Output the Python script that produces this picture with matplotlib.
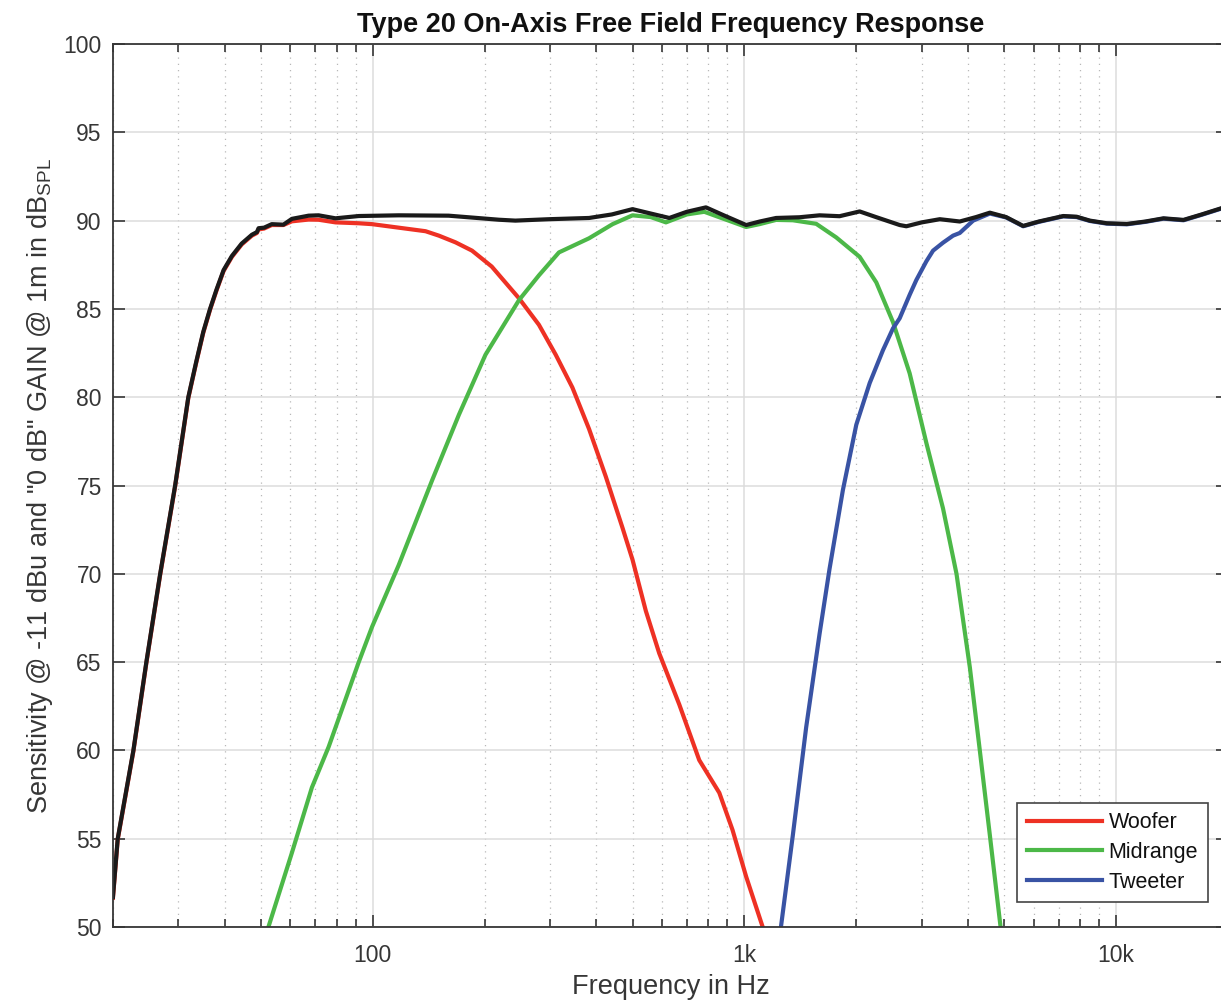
import matplotlib
matplotlib.use("Agg")
import matplotlib.pyplot as plt
from matplotlib.ticker import FixedLocator, NullFormatter

plt.rcParams['font.family'] = ['Liberation Sans', 'DejaVu Sans']
plt.rcParams['mathtext.fontset'] = 'custom'
plt.rcParams['mathtext.rm'] = 'Liberation Sans'
plt.rcParams['mathtext.it'] = 'Liberation Sans:italic'

# ---------------------------------------------------------------- data
# total (black)
total_f = [20, 20.6, 22.7, 24.6, 26.8, 29.4, 31.9, 33.5, 35, 36.5, 38, 39.7, 41.8,
           44.4, 47.3, 48.8, 49.3, 51, 53.5, 57.5, 60.6, 67.2, 71.5, 79.4, 91.7, 117.5, 160,
           218.6, 242, 298, 382, 440, 500, 560, 628, 700, 788, 880, 1011, 1100,
           1217, 1406, 1593, 1803, 2042, 2260, 2617, 2727, 3000, 3355, 3797, 4200,
           4575, 5060, 5623, 6200, 7211, 7834, 8500, 9437, 10690, 12000, 13416,
           15185, 17000, 19187, 20000]
total_db = [51.7, 55.0, 60.0, 65.0, 70.0, 75.0, 80.0, 82.0, 83.7, 85.0, 86.1, 87.2, 88.0,
            88.7, 89.2, 89.35, 89.57, 89.6, 89.8, 89.77, 90.1, 90.28, 90.3, 90.13, 90.26, 90.3, 90.28,
            90.05, 90.0, 90.08, 90.15, 90.35, 90.65, 90.4, 90.15, 90.5, 90.75, 90.3, 89.75, 89.95,
            90.15, 90.19, 90.3, 90.25, 90.52, 90.2, 89.75, 89.68, 89.9, 90.08, 89.95, 90.2,
            90.45, 90.2, 89.7, 89.95, 90.26, 90.22, 90.0, 89.85, 89.81, 89.95, 90.13,
            90.04, 90.35, 90.7, 90.8]

woofer_f = [20, 20.6, 22.7, 24.6, 26.8, 29.4, 31.9, 33.5, 35, 36.5, 38, 39.7, 41.8,
            44.4, 47.3, 48.8, 49.3, 51, 53.5, 57.5, 60.6, 67.2, 71.5, 79.4, 91.7, 99.6, 117.5,
            138.7, 150.6, 167, 185, 209, 247.5, 280, 310.8, 344.5, 382, 423.8, 470,
            500, 543, 590, 668, 756, 856, 929, 1011, 1120]
woofer_db = [51.65, 54.95, 59.95, 64.95, 69.95, 74.95, 79.95, 81.95, 83.65, 84.95, 86.05, 87.15, 87.95,
             88.65, 89.15, 89.3, 89.5, 89.55, 89.75, 89.75, 89.96, 90.06, 90.05, 89.9, 89.85, 89.8, 89.6,
             89.4, 89.15, 88.77, 88.3, 87.4, 85.6, 84.1, 82.4, 80.55, 78.2, 75.5, 72.6,
             70.8, 67.9, 65.5, 62.6, 59.45, 57.6, 55.5, 52.85, 50.0]

mid_f = [52.4, 60.6, 68.6, 76.1, 91.7, 99.6, 117.5, 144.5, 170.5, 201, 247.5, 280,
         317, 382, 442, 500, 560, 615, 700, 780, 880, 1011, 1098, 1217, 1350, 1560,
         1766, 2042, 2264, 2511, 2784, 3088, 3423, 3721, 4042, 4299, 4575, 4889]
mid_db = [50.0, 54.2, 57.9, 60.2, 65.0, 67.0, 70.5, 75.3, 79.0, 82.4, 85.5, 86.9,
          88.2, 89.0, 89.8, 90.3, 90.2, 89.9, 90.35, 90.5, 90.1, 89.64, 89.8, 90.04, 90.02, 89.82,
          89.05, 87.95, 86.5, 84.25, 81.35, 77.4, 73.7, 70.0, 64.7, 60.0, 55.2, 50.0]

tweeter_f = [1254, 1350, 1466, 1593, 1694, 1841, 2000, 2173, 2359, 2511, 2617, 2784,
             2902, 3088, 3218, 3423, 3643, 3797, 4125, 4575, 5060, 5623, 6200, 7211,
             7834, 8500, 9437, 10690, 12000, 13416, 15185, 17000, 19187, 20000]
tweeter_db = [50.0, 55.2, 61.3, 66.6, 70.26, 74.75, 78.44, 80.8, 82.66, 83.9, 84.47, 85.8,
              86.64, 87.7, 88.3, 88.75, 89.15, 89.3, 90.0, 90.4, 90.18, 89.68, 89.93, 90.24,
              90.2, 89.98, 89.83, 89.79, 89.93, 90.11, 90.02, 90.33, 90.68, 90.78]

xticks_major = [100, 1000, 10000]
xtick_labels = ['100', '1k', '10k']
yticks = list(range(50, 101, 5))

# ---------------------------------------------------------------- figure
txt = '#363636'
fig = plt.figure(figsize=(12.21, 10.05), dpi=100)
ax = fig.add_axes([0.0925, 0.0776, 0.9132, 0.8786])

ax.semilogx(woofer_f, woofer_db, color='#ee3124', lw=3, label='Woofer', solid_joinstyle='round')
ax.semilogx(mid_f, mid_db, color='#4cb848', lw=3, label='Midrange', solid_joinstyle='round')
ax.semilogx(tweeter_f, tweeter_db, color='#3953a4', lw=3, label='Tweeter', solid_joinstyle='round')
ax.semilogx(total_f, total_db, color='#1a1a1a', lw=3, solid_joinstyle='round')

ax.set_xlim(20, 20000)
ax.set_ylim(50, 100)
ax.xaxis.set_major_locator(FixedLocator(xticks_major))
ax.set_xticklabels(xtick_labels)
minors = [m * d for d in (10, 100, 1000) for m in range(2, 10)]
ax.xaxis.set_minor_locator(FixedLocator(minors))
ax.xaxis.set_minor_formatter(NullFormatter())
ax.set_yticks(yticks)

ax.grid(True, which='major', color='#dcdcdc', lw=1.1, ls='-')
ax.grid(True, which='minor', axis='x', color='#b8b8b8', lw=0.9, ls=(0, (1, 4)))
ax.set_axisbelow(True)

ax.tick_params(which='both', direction='in', top=True, right=True, colors=txt,
               labelsize=16.5, width=1.2)
ax.tick_params(which='major', length=8.5, pad=8)
ax.tick_params(which='minor', length=5.5)
ax.tick_params(axis='x', which='major', pad=12)
for s in ax.spines.values():
    s.set_color(txt)
    s.set_linewidth(1.3)

ax.set_title('Type 20 On-Axis Free Field Frequency Response', fontsize=19.5,
             fontweight='bold', color='#111111', pad=9)
ax.set_xlabel('Frequency in Hz', fontsize=19.5, color=txt, labelpad=5)
ax.set_ylabel(r'Sensitivity @ -11 dBu and "0 dB" GAIN @ 1m in dB$_{\mathrm{SPL}}$',
              fontsize=19.5, color=txt, labelpad=6)

leg = ax.legend(loc='lower right', bbox_to_anchor=(0.982, 0.028), fontsize=15.5,
                fancybox=False, framealpha=1, edgecolor='#444444', handlelength=3.5,
                handletextpad=0.3, labelspacing=0.4, borderpad=0.45, borderaxespad=0)
leg.get_frame().set_linewidth(1.2)
for t in leg.get_texts():
    t.set_color('#111111')

fig.savefig('out.png', dpi=100)
